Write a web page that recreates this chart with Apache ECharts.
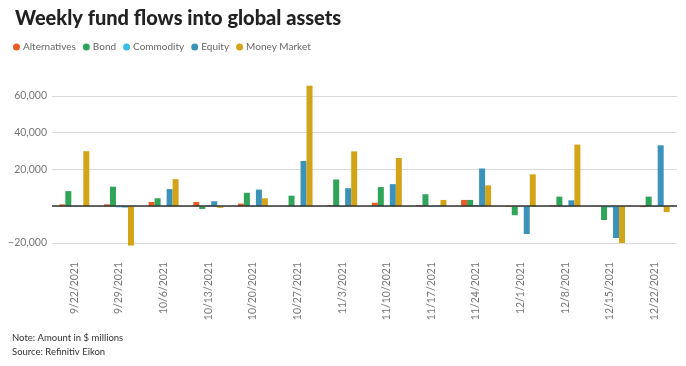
<!DOCTYPE html>
<html><head><meta charset="utf-8">
<script src="https://cdn.jsdelivr.net/npm/echarts@6/dist/echarts.min.js"></script>
<style>html,body{margin:0;padding:0;background:#fff}#c{width:686px;height:366px}</style>
</head><body><div id="c"></div>
<script>
const categories = ['9/22/2021','9/29/2021','10/6/2021','10/13/2021','10/20/2021','10/27/2021','11/3/2021','11/10/2021','11/17/2021','11/24/2021','12/1/2021','12/8/2021','12/15/2021','12/22/2021'];
const alternatives = [1000, 1000, 2300, 2300, 1400, 200, 500, 1900, 600, 3400, -400, 500, 200, -500];
const bond = [8200, 10600, 4300, -1500, 7300, 5700, 14500, 10400, 6500, 3400, -4900, 5200, -7500, 5200];
const commodity = [200, -600, 200, 500, 200, 100, -400, 200, -400, 600, 200, -400, -700, -400];
const equity = [200, -700, 9300, 2700, 9000, 24600, 9800, 12000, 300, 20500, -15100, 3200, -17300, 33100];
const moneyMarket = [29900, -21400, 14700, -900, 4300, 65500, 29800, 26200, 3400, 11300, 17300, 33500, -20000, -3200];
const yTicks = [-20000, 0, 20000, 40000, 60000];

const colors = ['#ee5a24', '#2fa55a', '#3bbbe9', '#3b93b9', '#d4a418'];
const names = ['Alternatives', 'Bond', 'Commodity', 'Equity', 'Money Market'];
const values = [alternatives, bond, commodity, equity, moneyMarket];

const chart = echarts.init(document.getElementById('c'), null, {renderer: 'canvas'});
const series = names.map((n, i) => ({
  name: n, type: 'bar', data: values[i], barWidth: 6, barGap: '0%', clip: false,
  itemStyle: {color: colors[i]},
  emphasis: {disabled: true}
}));
series[0].markLine = {
  silent: true, symbol: 'none', label: {show: false},
  lineStyle: {color: '#333', width: 1.5, type: 'solid'},
  data: [{yAxis: 0}]
};

chart.setOption({
  animation: false,
  color: colors,
  title: {
    text: 'Weekly fund flows into global assets', left: 10, top: 4,
    textStyle: {fontFamily: 'Lato', fontWeight: 900, fontSize: 20, color: '#222'}
  },
  legend: {
    left: 8, top: 37, icon: 'circle', itemWidth: 7, itemHeight: 7, itemGap: 7,
    textStyle: {fontFamily: 'Lato', fontSize: 10, color: '#666', padding: [0, 0, 0, -2]},
    data: names
  },
  graphic: [
    {type: 'text', left: 12, top: 333, style: {text: 'Note: Amount in $ millions', font: '9.5px Lato', fill: '#333'}},
    {type: 'text', left: 12, top: 347, style: {text: 'Source: Refinitiv Eikon', font: '9.5px Lato', fill: '#333'}}
  ],
  grid: {left: 52, right: 9, top: 59, bottom: 123, containLabel: false},
  xAxis: {
    type: 'category', data: categories,
    axisLine: {show: false, onZero: false}, axisTick: {show: false},
    axisLabel: {rotate: 90, margin: 19, fontFamily: 'Lato', fontSize: 10.5, color: '#777', interval: 0}
  },
  yAxis: {
    type: 'value', min: -20000, max: 80000, interval: 20000,
    axisLine: {show: false}, axisTick: {show: false},
    axisLabel: {
      margin: 5, fontFamily: 'Lato', fontSize: 10.5, color: '#777',
      formatter: v => (v === 0 || yTicks.indexOf(v) < 0) ? '' : (v < 0 ? '\u2212' : '') + Math.abs(v).toLocaleString('en-US')
    },
    splitLine: {lineStyle: {color: ['#d9d9d9', '#d9d9d9', '#d9d9d9', '#d9d9d9', '#d9d9d9', 'rgba(0,0,0,0)'], width: 1}}
  },
  series: series
});
</script></body></html>
